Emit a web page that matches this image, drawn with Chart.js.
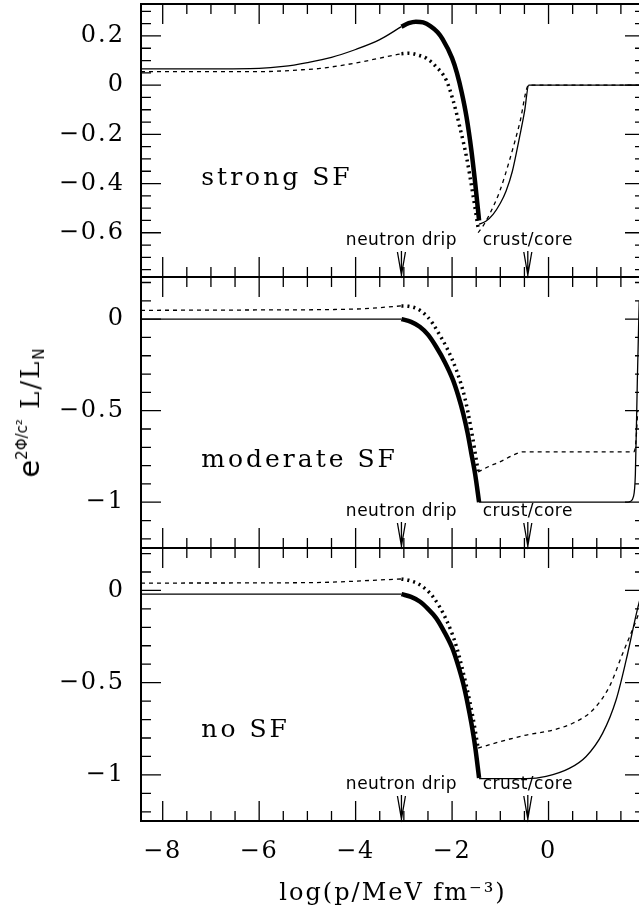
<!DOCTYPE html>
<html>
<head>
<meta charset="utf-8">
<script src="https://cdn.jsdelivr.net/npm/chart.js@4/dist/chart.umd.min.js"></script>
<style>
html, body { margin: 0; padding: 0; background: #fff; overflow: hidden; width: 639px; height: 917px; }
canvas.panel { position: absolute; left: 0; }
#ylab {
    position: absolute; left: 31px; top: 412px;
    transform: translate(-50%, -50%) rotate(-90deg);
    white-space: nowrap; line-height: 1;
    font-family: "DejaVu Serif"; font-size: 26px; letter-spacing: 2px; color: #000;
}
#ylab .e { font-family: "DejaVu Sans"; font-size: 29px; letter-spacing: 0; }
#ylab sup { font-family: "DejaVu Sans"; font-size: 15px; vertical-align: 12px; letter-spacing: 0; }
#ylab sub { font-family: "DejaVu Sans"; font-size: 15px; vertical-align: -5px; }
</style>
</head>
<body>
<canvas id="c1" class="panel" width="660" height="290" style="top:0;width:660px;height:290px"></canvas>
<canvas id="c2" class="panel" width="660" height="290" style="top:270px;width:660px;height:290px"></canvas>
<canvas id="c3" class="panel" width="660" height="377" style="top:540px;width:660px;height:377px"></canvas>
<div id="ylab"><span class="e">e</span><sup>2Φ/c²</sup>&nbsp;L/L<sub>N</sub></div>
<script>
// tick labels
const xTicks = [-8, -6, -4, -2, 0];
const strongTicks = [0.2, 0, -0.2, -0.4, -0.6];
const weakTicks = [0, -0.5, -1];

// markers along the pressure axis
const markerNames = ["neutron drip", "crust/core"];
const markerX = [-3.05, -0.43];

// strong SF
const strongSolidX = [-8.45, -7, -6, -5.5, -5, -4.5, -4, -3.5, -3.05];
const strongSolidY = [0.066, 0.066, 0.068, 0.076, 0.092, 0.113, 0.145, 0.185, 0.238];
const strongSolidThickX = [-3.05, -2.9, -2.75, -2.6, -2.45, -2.3, -2.2, -2.0, -1.9, -1.8, -1.7, -1.6, -1.52, -1.44];
const strongSolidThickY = [0.238, 0.252, 0.258, 0.255, 0.24, 0.215, 0.188, 0.11, 0.05, -0.03, -0.13, -0.265, -0.4, -0.55];
const strongSolidEndX = [-1.44, -1.3, -1.15, -1.0, -0.88, -0.75, -0.6, -0.5, -0.41, 2.0];
const strongSolidEndY = [-0.565, -0.553, -0.525, -0.48, -0.43, -0.35, -0.21, -0.11, 0, 0];
const strongDotX = [-8.45, -6, -5, -4.74, -4, -3.5, -3.05];
const strongDotY = [0.055, 0.055, 0.064, 0.068, 0.09, 0.11, 0.128];
const strongDotThickX = [-3.05, -2.9, -2.7, -2.53, -2.33, -2.12, -1.98, -1.84, -1.7, -1.57, -1.46];
const strongDotThickY = [0.128, 0.13, 0.122, 0.109, 0.075, 0.02, -0.061, -0.17, -0.293, -0.442, -0.58];
const strongDotEndX = [-1.46, -1.35, -1.22, -1.01, -0.81, -0.6, -0.41, 2.0];
const strongDotEndY = [-0.6, -0.57, -0.524, -0.43, -0.306, -0.156, 0, 0];

// moderate SF
const modSolidX = [-8.45, -3.05];
const modSolidY = [0, 0];
const modSolidThickX = [-3.05, -2.85, -2.67, -2.5, -2.33, -2.15, -1.98, -1.87, -1.77, -1.68, -1.6, -1.52, -1.44];
const modSolidThickY = [0, -0.015, -0.042, -0.085, -0.151, -0.235, -0.333, -0.42, -0.515, -0.62, -0.734, -0.85, -1.0];
const modSolidEndX = [-1.44, 1.65, 1.7, 1.76, 1.8, 1.84, 1.88];
const modSolidEndY = [-1.0, -1.0, -0.995, -0.97, -0.85, -0.35, 0.1];
const modDotX = [-8.45, -6, -4, -3.05];
const modDotY = [0.048, 0.05, 0.055, 0.072];
const modDotThickX = [-3.05, -2.9, -2.67, -2.5, -2.4, -2.25, -2.12, -1.91, -1.74, -1.6, -1.46];
const modDotThickY = [0.072, 0.07, 0.049, 0.01, -0.024, -0.09, -0.151, -0.279, -0.425, -0.607, -0.83];
const modDotEndX = [-1.46, -1.2, -1.01, -0.75, -0.53, 1.76, 1.8, 1.85];
const modDotEndY = [-0.835, -0.8, -0.78, -0.745, -0.725, -0.725, -0.7, -0.5];

// no SF
const noSolidX = [-8.45, -3.05];
const noSolidY = [-0.02, -0.02];
const noSolidThickX = [-3.05, -2.85, -2.67, -2.5, -2.33, -2.15, -1.98, -1.87, -1.77, -1.68, -1.6, -1.52, -1.44];
const noSolidThickY = [-0.02, -0.035, -0.06, -0.1, -0.15, -0.23, -0.322, -0.41, -0.503, -0.61, -0.72, -0.85, -1.017];
const noSolidEndX = [-1.44, -0.46, -0.05, 0.43, 0.78, 1.12, 1.4, 1.61, 1.84, 2.0];
const noSolidEndY = [-1.02, -1.02, -1.008, -0.965, -0.9, -0.775, -0.594, -0.377, -0.105, 0.05];
const noDotX = [-8.45, -5, -3.05];
const noDotY = [0.04, 0.042, 0.062];
const noDotThickX = [-3.05, -2.9, -2.67, -2.4, -2.12, -1.91, -1.7, -1.57, -1.46];
const noDotThickY = [0.062, 0.055, 0.031, -0.033, -0.159, -0.304, -0.522, -0.685, -0.855];
const noDotEndX = [-1.46, -1.01, -0.46, 0.09, 0.5, 0.92, 1.26, 1.54, 1.82, 2.0];
const noDotEndY = [-0.855, -0.82, -0.784, -0.757, -0.72, -0.648, -0.522, -0.34, -0.16, -0.03];

const pts = (xs, ys) => xs.map((x, i) => ({ x: x, y: ys[i] }));
const fmt = v => (v === 0 ? "0" : String(Math.round(v * 100) / 100).replace("-", "\u2212"));

function line(xs, ys, kind) {
    const ds = {
        data: pts(xs, ys),
        borderColor: "#000",
        pointRadius: 0,
        cubicInterpolationMode: "monotone",
        borderWidth: 1.3,
        borderCapStyle: "butt"
    };
    if (kind === "thick") ds.borderWidth = 4.5;
    if (kind === "dot") ds.borderDash = [4, 4];
    if (kind === "dotThick") { ds.borderWidth = 3.5; ds.borderDash = [2, 4]; }
    return ds;
}

// frame with inward ticks on all four sides
const framePlugin = {
    id: "frame",
    beforeDraw(chart) {
        chart.ctx.letterSpacing = "2px";
    },
    afterDraw(chart, args, opts) {
        const { ctx, chartArea: a, scales: { x, y } } = chart;
        ctx.save();
        ctx.strokeStyle = "#000";
        ctx.lineWidth = 1.3;
        ctx.beginPath();
        for (let k = Math.ceil(x.min / 0.5); k * 0.5 <= x.max + 1e-9; k++) {
            const px = x.getPixelForValue(k * 0.5);
            const len = k % 4 === 0 ? 20 : 10;
            ctx.moveTo(px, a.top); ctx.lineTo(px, a.top + len);
            ctx.moveTo(px, a.bottom); ctx.lineTo(px, a.bottom - len);
        }
        const per = Math.round(opts.major / opts.minor);
        for (let k = Math.ceil(y.min / opts.minor - 1e-9); k * opts.minor <= y.max + 1e-9; k++) {
            const py = y.getPixelForValue(k * opts.minor);
            const len = k % per === 0 ? 20 : 10;
            ctx.moveTo(a.left, py); ctx.lineTo(a.left + len, py);
            ctx.moveTo(a.right, py); ctx.lineTo(a.right - len, py);
        }
        ctx.stroke();
        ctx.lineWidth = 2;
        ctx.strokeRect(a.left, a.top, a.right - a.left, a.bottom - a.top);
        ctx.restore();
    }
};

// panel name and the two arrows
const notesPlugin = {
    id: "notes",
    afterDatasetsDraw(chart, args, opts) {
        const { ctx, chartArea: a, scales: { x, y } } = chart;
        ctx.save();
        ctx.fillStyle = "#000";
        ctx.strokeStyle = "#000";
        ctx.lineWidth = 1.3;
        ctx.font = '25px "DejaVu Serif"';
        ctx.letterSpacing = "3px";
        ctx.textAlign = "left";
        ctx.textBaseline = "middle";
        ctx.fillText(opts.label, x.getPixelForValue(-7.2), y.getPixelForValue(opts.labelY));
        ctx.font = '17px "DejaVu Sans"';
        ctx.letterSpacing = "0.5px";
        ctx.textAlign = "center";
        markerNames.forEach((name, i) => {
            const px = x.getPixelForValue(markerX[i]);
            ctx.fillText(name, px, a.bottom - 36);
            ctx.beginPath();
            ctx.moveTo(px, a.bottom - 26); ctx.lineTo(px, a.bottom);
            ctx.moveTo(px - 4, a.bottom - 25); ctx.lineTo(px, a.bottom - 2); ctx.lineTo(px + 4, a.bottom - 25);
            ctx.stroke();
        });
        ctx.restore();
    }
};

const tickFont = { family: "DejaVu Serif", size: 24 };

function makePanel(id, datasets, yMin, yMax, yTicks, minor, major, label, labelY, padding, showX) {
    return new Chart(document.getElementById(id), {
        type: "line",
        data: { datasets: datasets },
        options: {
            responsive: false,
            animation: false,
            layout: { padding: padding },
            plugins: {
                legend: { display: false },
                tooltip: { enabled: false },
                frame: { minor: minor, major: major },
                notes: { label: label, labelY: labelY }
            },
            scales: {
                x: {
                    type: "linear",
                    min: -8.45,
                    max: 2.0,
                    display: showX,
                    grid: { display: false, drawTicks: false },
                    border: { display: false },
                    afterBuildTicks: s => { s.ticks = xTicks.map(v => ({ value: v })); },
                    afterFit: s => {
                        s.height = showX ? 96 : 0;
                        s.paddingLeft = 0; s.paddingRight = 0;
                    },
                    ticks: { font: tickFont, color: "#000", padding: 16, maxRotation: 0, callback: fmt },
                    title: {
                        display: true,
                        text: "log(p/MeV fm\u207B\u00B3)",
                        font: tickFont,
                        color: "#000",
                        padding: { top: 0, bottom: 9 }
                    }
                },
                y: {
                    type: "linear",
                    min: yMin,
                    max: yMax,
                    grid: { display: false, drawTicks: false },
                    border: { display: false },
                    afterBuildTicks: s => { s.ticks = yTicks.map(v => ({ value: v })); },
                    afterFit: s => {
                        s.width = 141;
                        s.paddingTop = 0; s.paddingBottom = 0;
                    },
                    ticks: { font: tickFont, color: "#000", padding: 16, callback: fmt }
                }
            }
        },
        plugins: [framePlugin, notesPlugin]
    });
}

makePanel("c1", [
    line(strongSolidX, strongSolidY, "thin"),
    line(strongSolidThickX, strongSolidThickY, "thick"),
    line(strongSolidEndX, strongSolidEndY, "thin"),
    line(strongDotX, strongDotY, "dot"),
    line(strongDotThickX, strongDotThickY, "dotThick"),
    line(strongDotEndX, strongDotEndY, "dot")
], -0.78, 0.33, strongTicks, 0.05, 0.2, "strong SF", -0.38, { top: 4, bottom: 13, left: 0, right: 15 }, false);

makePanel("c2", [
    line(modSolidX, modSolidY, "thin"),
    line(modSolidThickX, modSolidThickY, "thick"),
    line(modSolidEndX, modSolidEndY, "thin"),
    line(modDotX, modDotY, "dot"),
    line(modDotThickX, modDotThickY, "dotThick"),
    line(modDotEndX, modDotEndY, "dot")
], -1.25, 0.23, weakTicks, 0.1, 0.5, "moderate SF", -0.77, { top: 7, bottom: 12, left: 0, right: 15 }, false);

makePanel("c3", [
    line(noSolidX, noSolidY, "thin"),
    line(noSolidThickX, noSolidThickY, "thick"),
    line(noSolidEndX, noSolidEndY, "thin"),
    line(noDotX, noDotY, "dot"),
    line(noDotThickX, noDotThickY, "dotThick"),
    line(noDotEndX, noDotEndY, "dot")
], -1.25, 0.23, weakTicks, 0.1, 0.5, "no SF", -0.757, { top: 8, bottom: 0, left: 0, right: 15 }, true);
</script>
</body>
</html>
